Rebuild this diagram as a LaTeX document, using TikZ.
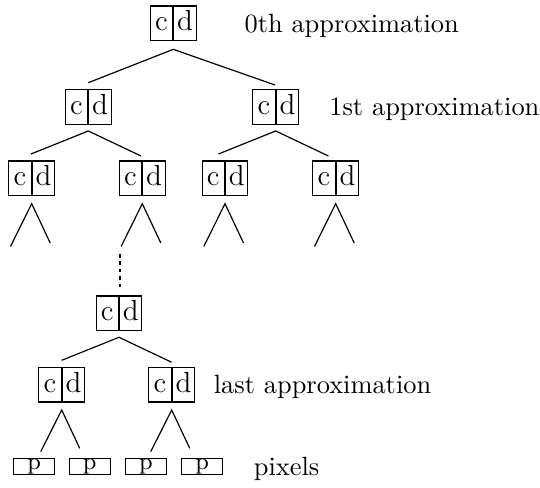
\documentclass[tikz,border=0pt]{standalone}
\usetikzlibrary{calc}
\newcommand\cdbox[3]{%
  \node[half,anchor=east] (#1c) at (#2,#3) {c};%
  \node[half,anchor=west] (#1d) at (#2,#3) {d};%
  \coordinate (#1) at (#2,#3);}
\begin{document}
\begin{tikzpicture}[x=0.3788pt,y=-0.3788pt,line width=0.45pt,
  half/.style={draw,minimum width=8.45pt,inner xsep=0pt,inner ysep=0pt,
    text height=9.4pt,text depth=3.74pt,font=\fontsize{11}{13}\selectfont},
  pbox/.style={draw,minimum width=15.5pt,inner xsep=0pt,inner ysep=0pt,
    text height=4.1pt,text depth=1.96pt,font=\small},
  lbl/.style={anchor=base west,inner sep=0pt},
  link/.style={line width=0.45pt},
  dots/.style={line width=0.45pt,dash pattern=on 1.4pt off 1.4pt}]
\useasboundingbox (0,0) rectangle (540,488);

% boxes
\cdbox{n0}{173.3}{23.35}
\cdbox{n1a}{88.3}{107}
\cdbox{n1b}{275.7}{107}
\cdbox{n2a}{31.7}{178.3}
\cdbox{n2b}{142.3}{178.3}
\cdbox{n2c}{225}{178.3}
\cdbox{n2d}{335.7}{178.3}
\cdbox{nm}{119}{313.3}
\cdbox{nla}{61.7}{384.7}
\cdbox{nlb}{171.7}{384.7}

\node[pbox] (p1) at (34.2,466.3) {p};
\node[pbox] (p2) at (89.7,466.3) {p};
\node[pbox] (p3) at (145.8,466.3) {p};
\node[pbox] (p4) at (202.2,466.3) {p};

% labels
\node[lbl] (l0) at (244,32.5) {0th approximation};
\node[lbl] (l1) at (328.8,116) {1st approximation};
\node[lbl] (l2) at (213.3,394) {last approximation};
\node[lbl] (l3) at (253.3,476) {pixels};

% connectors
\draw[link] ($(n1a)+(0,-24.3)$) -- ($(n0)+(0,26)$) -- ($(n1b)+(-0.7,-22)$);
\foreach \n in {n1a,n1b,nm}{
  \draw[link] ($(\n)+(-57.3,47)$) -- ($(\n)+(0,24)$) -- ($(\n)+(52.7,49)$);
}
\foreach \n in {n2a,n2b,n2c,n2d}{
  \draw[link] ($(\n)+(-21.2,68.2)$) -- ($(\n)+(0,25.4)$) -- ($(\n)+(18.5,64.7)$);
}
\foreach \n in {nla,nlb}{
  \draw[link] ($(\n)+(-21,67)$) -- ($(\n)+(0,25.3)$) -- ($(\n)+(18,63.6)$);
}
\draw[dots] ($(nm)+(1,-59.3)$) -- ($(nm)+(1,-24)$);
\end{tikzpicture}
\end{document}
